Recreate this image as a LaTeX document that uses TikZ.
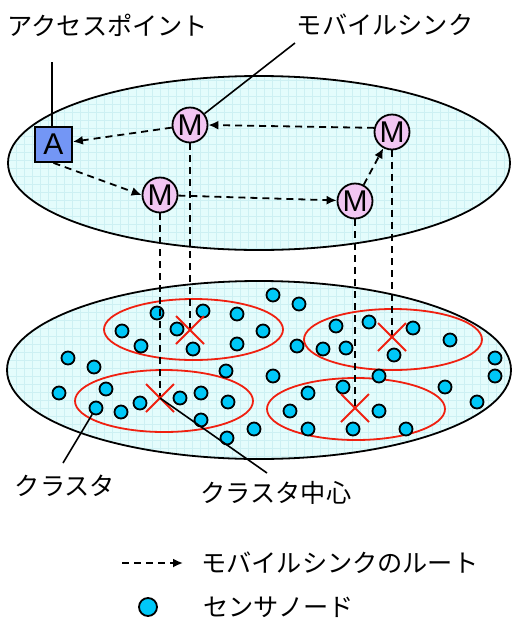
\documentclass[tikz,border=0pt]{standalone}
\usepackage{fontspec}
\setmainfont{Liberation Sans}
\newfontfamily\jp{Noto Sans CJK JP}
\usetikzlibrary{arrows.meta,calc}
\definecolor{plane}{HTML}{E4FCFC}
\definecolor{gridc}{HTML}{CDF0F3}
\definecolor{apfill}{HTML}{7396F5}
\definecolor{msfill}{HTML}{F2C6F2}
\definecolor{sensor}{HTML}{00C8F8}
\definecolor{clred}{HTML}{F02010}
\tikzset{
  apbox/.style={draw=black, line width=1.8pt, fill=apfill, minimum width=37pt, minimum height=35pt, inner sep=0pt, font=\fontsize{30}{30}\selectfont},
  msink/.style={circle, draw=black, line width=1.8pt, fill=msfill, minimum size=35pt, inner sep=0pt, font=\fontsize{30}{30}\selectfont},
  snode/.style={circle, draw=black, line width=1.8pt, fill=sensor, minimum size=13pt, inner sep=0pt},
  cluster/.style={draw=clred, line width=1.8pt},
  xmark/.style={draw=clred, line width=1.8pt},
  route/.style={dashed, dash pattern=on 7pt off 5pt, line width=1.8pt, -{Latex[length=10pt,width=9pt]}},
  vline/.style={dashed, dash pattern=on 7pt off 5pt, line width=1.8pt},
  lbl/.style={font=\jp\fontsize{25.2}{27}\selectfont, inner sep=0pt},
  lead/.style={line width=1.6pt},
  gline/.style={gridc, line width=0.5pt},
}
\begin{document}
\begin{tikzpicture}[x=1pt,y=-1pt]
\useasboundingbox (0,0) rectangle (513,625);
% planes
\fill[plane] (259,163) ellipse [x radius=251, y radius=87];
\begin{scope}
\clip (259,163) ellipse [x radius=251, y radius=87];
\foreach \gx in {0,8,...,512} \draw[gline] (\gx,70) -- (\gx,260);
\foreach \gy in {72,80,...,256} \draw[gline] (0,\gy) -- (513,\gy);
\end{scope}
\draw[line width=1.8pt] (259,163) ellipse [x radius=251, y radius=87];
\fill[plane] (259,370) ellipse [x radius=252, y radius=89];
\begin{scope}
\clip (259,370) ellipse [x radius=252, y radius=89];
\foreach \gx in {0,8,...,512} \draw[gline] (\gx,275) -- (\gx,465);
\foreach \gy in {280,288,...,464} \draw[gline] (0,\gy) -- (513,\gy);
\end{scope}
\draw[line width=1.8pt] (259,370) ellipse [x radius=252, y radius=89];
% clusters
\draw[cluster] (193.5,329.5) ellipse [x radius=89.5, y radius=30.5];
\draw[cluster] (393,339.5) ellipse [x radius=89, y radius=30.5];
\draw[cluster] (164,401) ellipse [x radius=89, y radius=31];
\draw[cluster] (356,409) ellipse [x radius=89, y radius=31];
% cluster centres
\coordinate (c1) at (190,330);
\coordinate (c2) at (392,337);
\coordinate (c3) at (160,398);
\coordinate (c4) at (355,408);
% sensor nodes
\foreach \x/\y [count=\i] in {273/295,299/304,157/313,203/311,237/314,122/331,177/329,263/331,141/346,193/349,237/344,297/346,336/326,369/322,413/328,450/340,323/349,346/348,394/355,495/358,495/376,68/358,94/367,226/371,273/376,379/376,59/393,106/389,96/408,121/412,140/403,180/398,201/393,228/402,201/420,227/438,254/429,308/393,343/387,290/411,308/429,379/411,353/429,406/429,445/387,477/402}
  \node[snode] (s\i) at (\x,\y) {};
% access point and mobile sinks
\node[apbox] (a) at (53.5,144.5) {A};
\node[msink] (m1) at (190,125) {M};
\node[msink] (m2) at (392,132) {M};
\node[msink] (m3) at (160,195) {M};
\node[msink] (m4) at (355,201) {M};
% vertical projections
\draw[vline] (m1.south) -- (m1.south |- c1);
\draw[vline] (m2.south) -- (m2.south |- c2);
\draw[vline] (m3.south) -- (m3.south |- c3);
\draw[vline] (m4.south) -- (m4.south |- c4);
\foreach \c in {c1,c2,c3,c4}{
  \draw[xmark] ($(\c)+(-14,-14)$) -- ($(\c)+(14,14)$);
  \draw[xmark] ($(\c)+(14,-14)$) -- ($(\c)+(-14,14)$);
}
% routes
\draw[route] (m1) -- (a);
\draw[route] (m2.167) -- (m1.east);
\draw[route] (a.south) -- (m3.west);
\draw[route] (m3) -- (m4);
\draw[route] (m4) -- (m2);
% labels
\node[lbl] (lap) at (108,25) {アクセスポイント};
\node[lbl] (lms) at (385,25) {モバイルシンク};
\node[lbl] (lcl) at (65,486) {クラスタ};
\node[lbl] (lcc) at (276,493) {クラスタ中心};
\coordinate (ap0) at (52,62);
\draw[lead] (ap0) -- (ap0 |- a.north);
\coordinate (ms0) at (295,43);
\draw[lead] (ms0) -- (m1);
\coordinate (cl0) at (63,463);
\draw[lead] (cl0) -- (s29);
\coordinate (cc0) at (267,473);
\draw[lead] (cc0) -- (c3);
% legend
\coordinate (lg0) at (122,563);
\coordinate (lg1) at (183,563);
\draw[route] (lg0) -- (lg1);
\node[lbl, anchor=west] (lrt) at (201,563) {モバイルシンクのルート};
\node[snode, minimum size=18pt] (lsn) at (148,607) {};
\node[lbl, anchor=west] (lse) at (203,607) {センサノード};
\end{tikzpicture}
\end{document}
